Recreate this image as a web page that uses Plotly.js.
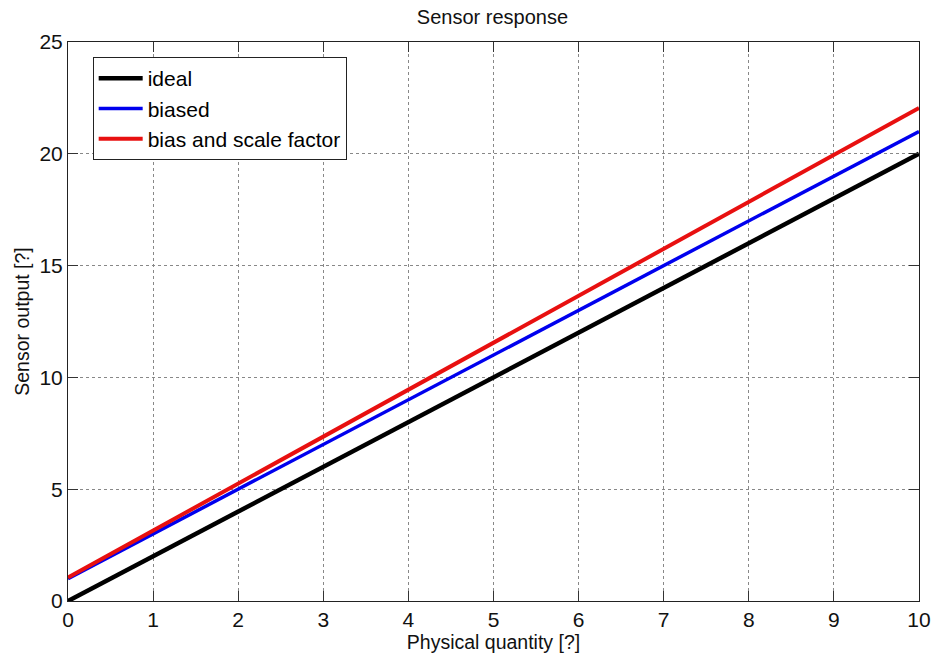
<!DOCTYPE html>
<html>
<head>
<meta charset="utf-8">
<script src="https://cdn.plot.ly/plotly-3.0.1.min.js"></script>
<style>html,body{margin:0;padding:0;background:#fff;}#chart{width:938px;height:655px;}</style>
</head>
<body>
<div id="chart"></div>
<script>
const quantity = [0, 1, 2, 3, 4, 5, 6, 7, 8, 9, 10];
const ideal = [0, 2, 4, 6, 8, 10, 12, 14, 16, 18, 20];
const biased = [1, 3, 5, 7, 9, 11, 13, 15, 17, 19, 21];
const biasScale = [1.05, 3.15, 5.25, 7.35, 9.45, 11.55, 13.65, 15.75, 17.85, 19.95, 22.05];
const seriesNames = ["ideal", "biased", "bias and scale factor"];
const xTicks = [0, 1, 2, 3, 4, 5, 6, 7, 8, 9, 10];
const yTicks = [0, 5, 10, 15, 20, 25];

const font = "Arial, 'Liberation Sans', sans-serif";
const traces = [
  {x: quantity, y: ideal, name: seriesNames[0], mode: "lines", line: {color: "#000000", width: 4.5}},
  {x: quantity, y: biased, name: seriesNames[1], mode: "lines", line: {color: "#0000ee", width: 3.5}},
  {x: quantity, y: biasScale, name: seriesNames[2], mode: "lines", line: {color: "#e81010", width: 4}}
];
const axisCommon = {
  showline: true, linecolor: "#222", linewidth: 1, mirror: "ticks",
  ticks: "inside", ticklen: 10, tickcolor: "#333",
  showgrid: true, gridcolor: "#888", griddash: "dot", gridwidth: 1,
  zeroline: false, tickfont: {family: font, size: 21, color: "#111"}
};
const layout = {
  width: 938, height: 655,
  margin: {l: 68, r: 19, t: 42, b: 54},
  paper_bgcolor: "#fff", plot_bgcolor: "#fff",
  title: {text: "Sensor response", font: {family: font, size: 20, color: "#111"}, x: 0.525, xanchor: "center", y: 0.974, yanchor: "middle"},
  xaxis: Object.assign({}, axisCommon, {range: [0, 10], tickvals: xTicks, ticktext: xTicks.map(String), ticklabelstandoff: 0,
    title: {text: "Physical quantity [?]", font: {family: font, size: 19.5, color: "#111"}, standoff: 0}}),
  yaxis: Object.assign({}, axisCommon, {range: [0, 25], tickvals: yTicks, ticktext: yTicks.map(String),
    title: {text: "Sensor output [?]", font: {family: font, size: 19.5, color: "#111"}, standoff: 4}}),
  showlegend: true,
  legend: {x: 0.029, y: 0.973, xanchor: "left", yanchor: "top", bgcolor: "#fff",
    bordercolor: "#222", borderwidth: 1, font: {family: font, size: 21, color: "#000"},
    tracegroupgap: 0, itemwidth: 44, entrywidth: 214, entrywidthmode: "pixels"}
};
Plotly.newPlot("chart", traces, layout, {displayModeBar: false, staticPlot: true});
</script>
</body>
</html>
